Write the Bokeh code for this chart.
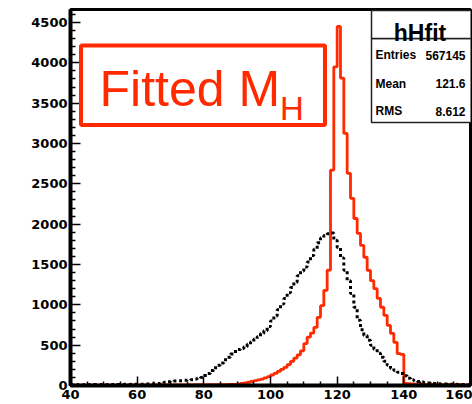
from bokeh.plotting import figure
from bokeh.models import FixedTicker, Label, BoxAnnotation, Range1d
from bokeh.embed import file_html
from bokeh.resources import INLINE

# ---- data (1 GeV bins from 40 to 160) ----
bin_lo = 40
bin_width = 1

fitted_counts = [
    3, 3, 4, 3, 4, 4, 3, 4, 5, 4,
    4, 5, 4, 5, 5, 4, 5, 5, 6, 5,
    5, 6, 6, 5, 6, 6, 7, 6, 7, 7,
    7, 8, 7, 8, 8, 9, 8, 9, 9, 10,
    8, 9, 9, 10, 10, 11, 12, 13, 14, 15,
    20, 25, 32, 40, 50, 60, 70, 80, 95, 110,
    130, 150, 175, 200, 225, 260, 300, 340, 380, 430,
    520, 600, 650, 720, 845, 990, 1180, 1430, 2670, 3950,
    4450, 3810, 3125, 2630, 2320, 2070, 1885, 1737, 1590, 1427,
    1300, 1200, 1080, 970, 870, 745, 645, 535, 395, 385,
    25, 22, 20, 18, 17, 16, 15, 14, 14, 13,
    12, 12, 11, 11, 10, 10, 9, 9, 8, 8,
]

raw_counts = [
    8, 9, 8, 10, 9, 10, 9, 11, 10, 11,
    10, 12, 11, 12, 13, 12, 14, 13, 14, 15,
    15, 15, 18, 18, 20, 22, 25, 30, 40, 48,
    52, 55, 58, 60, 64, 68, 72, 80, 90, 100,
    125, 150, 185, 220, 250, 280, 320, 350, 390, 420,
    445, 460, 480, 510, 540, 575, 605, 645, 680, 730,
    800, 860, 940, 1010, 1080, 1150, 1215, 1280, 1360, 1420,
    1470, 1530, 1610, 1690, 1770, 1830, 1860, 1880, 1890, 1800,
    1710, 1580, 1430, 1300, 1140, 970, 810, 690, 620, 560,
    500, 450, 400, 350, 300, 250, 210, 185, 165, 150,
    120, 90, 70, 58, 50, 42, 36, 32, 28, 25,
    22, 20, 18, 16, 15, 14, 12, 11, 10, 9,
]

x_major_ticks = [40, 60, 80, 100, 120, 140, 160]
x_minor_ticks = [45, 50, 55, 65, 70, 75, 85, 90, 95, 105, 110, 115, 125, 130, 135, 145, 150, 155]
y_major_ticks = [0, 500, 1000, 1500, 2000, 2500, 3000, 3500, 4000, 4500]
y_minor_ticks = [v for v in range(0, 4700, 100) if v % 500 != 0]

hist_name = "hHfit"
stats_labels = ["Entries", "Mean", "RMS"]
stats_values = ["567145", "121.6", "8.612"]

RED = "#ff2a00"

n = len(fitted_counts)
edges = [bin_lo + i * bin_width for i in range(n + 1)]

p = figure(width=472, height=404,
           x_range=Range1d(40, 160), y_range=Range1d(0, 4661),
           output_backend="svg", toolbar_location=None,
           min_border_left=70, min_border_right=2,
           min_border_top=9, min_border_bottom=19)
p.background_fill_color = "white"
p.border_fill_color = "white"
p.outline_line_color = "black"
p.outline_line_width = 3
p.xgrid.visible = False
p.ygrid.visible = False

# histograms
p.step(x=edges, y=fitted_counts + [fitted_counts[-1]], mode="after",
       line_color=RED, line_width=2.8)
p.step(x=edges, y=raw_counts + [raw_counts[-1]], mode="after",
       line_color="black", line_width=3, line_dash="3 3")

# axes
for ax, ticks, minors in ((p.xaxis, x_major_ticks, x_minor_ticks),
                          (p.yaxis, y_major_ticks, y_minor_ticks)):
    ax.ticker = FixedTicker(ticks=ticks, minor_ticks=minors)
    ax.axis_line_width = 4
    ax.axis_line_color = "black"
    ax.major_tick_line_color = "black"
    ax.minor_tick_line_color = "black"
    ax.major_tick_line_width = 1.5
    ax.minor_tick_line_width = 1.5
    ax.major_tick_out = 0
    ax.minor_tick_out = 0
    ax.major_label_text_font = "DejaVu Sans"
    ax.major_label_text_font_style = "bold"
    ax.major_label_text_font_size = "13px"
    ax.major_label_text_color = "black"

p.xaxis.major_tick_in = 9
p.xaxis.minor_tick_in = 4
p.xaxis.major_label_standoff = 4
p.yaxis.major_tick_in = 10
p.yaxis.minor_tick_in = 5
p.yaxis.major_label_standoff = 3

# "Fitted M_H" box
p.add_layout(BoxAnnotation(left=43.15, right=116.35, bottom=3229, top=4215,
                           fill_color=None, line_color=RED, line_alpha=1, line_width=4))
p.add_layout(Label(x=48.7, y=3680, text="Fitted M", text_font="Liberation Sans",
                   text_font_size="50px", text_color=RED, text_baseline="alphabetic"))
p.add_layout(Label(x=102.85, y=3430, text="H", text_font="Liberation Sans",
                   text_font_size="33px", text_color=RED, text_baseline="alphabetic"))

# stats box
p.add_layout(BoxAnnotation(left=130.3, right=172, bottom=3260, top=4301,
                           fill_color="white", fill_alpha=1,
                           line_color="#222222", line_alpha=1, line_width=1.5))
p.add_layout(BoxAnnotation(left=130.3, right=172, bottom=4301, top=4650,
                           fill_color="white", fill_alpha=1,
                           line_color="#222222", line_alpha=1, line_width=1.5))
p.add_layout(Label(x=144.85, y=4365, text=hist_name, text_font="Liberation Sans",
                   text_font_style="bold", text_font_size="23px", text_color="black",
                   text_align="center", text_baseline="alphabetic"))
stat_y = [4091, 3740, 3397]
for lab, val, yy in zip(stats_labels, stats_values, stat_y):
    p.add_layout(Label(x=131.5, y=yy, text=lab, text_font="Liberation Sans",
                       text_font_style="bold", text_font_size="12px", text_color="black",
                       text_baseline="alphabetic"))
    p.add_layout(Label(x=158.5, y=yy, text=val, text_font="Liberation Sans",
                       text_font_style="bold", text_font_size="12px", text_color="black",
                       text_align="right", text_baseline="alphabetic"))

open("out.html", "w").write(file_html(p, INLINE))
